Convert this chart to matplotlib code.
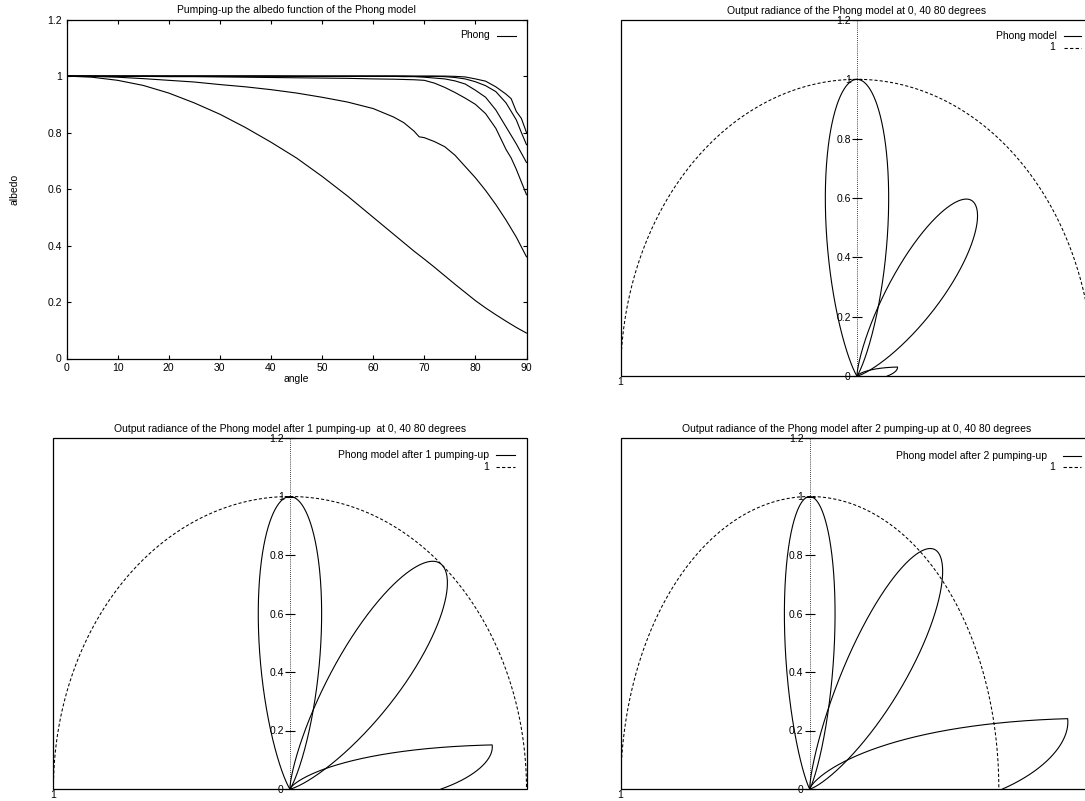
import numpy as np
import matplotlib
matplotlib.use("Agg")
import matplotlib.pyplot as plt
from matplotlib.patches import Rectangle
from matplotlib.lines import Line2D

plt.rcParams['font.family'] = ['Liberation Sans', 'DejaVu Sans']
plt.rcParams['font.size'] = 7.5

# albedo curves (one curve per pumping step)
angle = [0, 5, 10, 15, 20, 25, 30, 35, 40, 45, 50, 55, 60, 64, 66, 68, 69, 70,
         72, 74, 76, 78, 80, 82, 84, 86, 87, 88, 89, 90]
albedo_0 = [1.0, 0.996, 0.985, 0.967, 0.94, 0.905, 0.865, 0.818, 0.766, 0.71, 0.645, 0.575,
            0.50, 0.44, 0.41, 0.38, 0.366, 0.352, 0.323, 0.293, 0.263, 0.234, 0.205, 0.179,
            0.155, 0.132, 0.121, 0.11, 0.10, 0.09]
albedo_1 = [1.0, 0.999, 0.996, 0.991, 0.985, 0.979, 0.97, 0.962, 0.952, 0.94, 0.925, 0.908,
            0.885, 0.855, 0.835, 0.805, 0.785, 0.782, 0.768, 0.75, 0.72, 0.68, 0.64, 0.595,
            0.545, 0.49, 0.46, 0.43, 0.395, 0.36]
albedo_2 = [1.0, 1.0, 0.999, 0.999, 0.998, 0.998, 0.997, 0.996, 0.995, 0.994, 0.993, 0.992,
            0.99, 0.989, 0.988, 0.987, 0.986, 0.985, 0.975, 0.96, 0.942, 0.922, 0.90, 0.867,
            0.815, 0.74, 0.71, 0.67, 0.625, 0.58]
albedo_3 = [1.0, 1.0, 1.0, 1.0, 1.0, 1.0, 1.0, 1.0, 1.0, 0.999, 0.999, 0.999,
            0.999, 0.999, 0.998, 0.998, 0.997, 0.996, 0.993, 0.99, 0.983, 0.972, 0.95, 0.925,
            0.88, 0.82, 0.79, 0.76, 0.727, 0.694]
albedo_4 = [1.0, 1.0, 1.0, 1.0, 1.0, 1.0, 1.0, 1.0, 1.0, 1.0, 1.0, 1.0,
            1.0, 1.0, 1.0, 0.999, 0.999, 0.999, 0.999, 0.998, 0.995, 0.99, 0.98, 0.966,
            0.945, 0.905, 0.875, 0.845, 0.80, 0.757]
albedo_5 = [1.0, 1.0, 1.0, 1.0, 1.0, 1.0, 1.0, 1.0, 1.0, 1.0, 1.0, 1.0,
            1.0, 1.0, 1.0, 1.0, 1.0, 1.0, 1.0, 1.0, 0.999, 0.997, 0.99, 0.982,
            0.962, 0.936, 0.92, 0.875, 0.85, 0.80]
albedo_curves = [albedo_0, albedo_1, albedo_2, albedo_3, albedo_4, albedo_5]

# Phong lobes at the three incidence angles; peak radiance
incidence = [0, 40, 80]
peak_plain = [1.0, 0.766, 0.174]
peak_pump1 = [1.0, 1.0, 0.868]
peak_pump2 = [1.0, 1.056, 1.385]
# lobe fall-off read from the outlines: cosine power on the horizon side,
# cosine power (or exponential decay in degrees) on the normal side
lobe_far_power = [20, 18, 20]
lobe_near_power = [20, 20, None]
lobe_near_decay = [None, None, 9.0]

W, H = 1085, 801
LW = 0.8
fig = plt.figure(figsize=(W / 100, H / 100), dpi=100)


def box(left, top, right, bottom):
    return [left / W, 1 - bottom / H, (right - left) / W, (bottom - top) / H]


def fx(x):
    return x / W


def fy(y):
    return 1 - y / H


def key(entries, y0, x1, x2, dy=11.5):
    # gnuplot style key: right justified text followed by the line sample
    for i, (label, ls, right) in enumerate(entries):
        y = y0 + i * dy
        fig.text(fx(right), fy(y), label, ha='right', va='center')
        fig.add_artist(Line2D([fx(x1), fx(x2)], [fy(y), fy(y)], color='k',
                              lw=LW, ls=ls))


def fmt(v, pos=None):
    return f"{v:g}"


# ---- albedo panel
ax1 = fig.add_axes(box(66.5, 19.6, 526.5, 358.5))
for a in albedo_curves:
    ax1.plot(angle, a, color='k', lw=LW)
ax1.set_xlim(0, 90)
ax1.set_ylim(0, 1.2)
ax1.set_xticks(range(0, 91, 10))
ax1.set_yticks(np.arange(0, 1.21, 0.2))
ax1.yaxis.set_major_formatter(fmt)
ax1.tick_params(direction='in', length=3.2, width=0.8, top=True, right=True, pad=3.5)
for s in ax1.spines.values():
    s.set_linewidth(0.9)
ax1.set_title('Pumping-up the albedo function of the Phong model', pad=4.5, fontsize=7.5)
ax1.set_xlabel('angle', labelpad=0.5)
ax1.set_ylabel('albedo')
ax1.yaxis.set_label_coords(-0.103, 0.5)
key([('Phong', '-', 490)], 35.5, 496.5, 515.5)


def polar_panel(rect, peaks, title, xmax):
    ax = fig.add_axes(rect)
    theta = np.linspace(-90, 90, 1801)
    t = np.radians(theta)
    for i, (inc, pk) in enumerate(zip(incidence, peaks)):
        d = theta - inc
        c = np.clip(np.cos(np.radians(d)), 0, None)
        far = c ** lobe_far_power[i]
        if lobe_near_power[i] is not None:
            near = c ** lobe_near_power[i]
        else:
            near = np.exp(-np.abs(d) / lobe_near_decay[i])
        r = pk * np.where(d >= 0, far, near)
        ax.plot(r * np.sin(t), r * np.cos(t), color='k', lw=LW)
    ax.plot(np.sin(t), np.cos(t), color='k', lw=0.75, ls=(0, (3, 2)))
    ax.axvline(0, color='k', lw=0.6, ls=(0, (1, 1.5)))
    ax.set_xlim(-1, xmax)
    ax.set_ylim(0, 1.2)
    for s in ax.spines.values():
        s.set_visible(False)
    ax.spines['left'].set_position(('data', 0))
    ax.add_patch(Rectangle((0, 0), 1, 1, transform=ax.transAxes, fill=False,
                           lw=0.9, ec='k', clip_on=False))
    ax.set_yticks(np.arange(0, 1.21, 0.2))
    ax.yaxis.set_major_formatter(fmt)
    ax.tick_params(axis='y', direction='inout', length=7, width=0.8, pad=1.0)
    ax.set_xticks([-1])
    ax.set_xticklabels(['1'])
    ax.tick_params(axis='x', length=0, pad=1.0)
    ax.set_title(title, pad=4.5, fontsize=7.5)
    return ax


polar_panel(box(620.6, 20, 1093.4, 376), peak_plain,
            'Output radiance of the Phong model at 0, 40 80 degrees', 1.0)
key([('Phong model', '-', 1056.5), ('1', (0, (3, 2)), 1055)], 36, 1064, 1081)

polar_panel(box(53.4, 438, 526.5, 789), peak_pump1,
            'Output radiance of the Phong model after 1 pumping-up  at 0, 40 80 degrees', 1.0)
key([('Phong model after 1 pumping-up', '-', 489), ('1', (0, (3, 2)), 489)], 455, 496, 515)

polar_panel(box(620.6, 438, 1093.4, 789), peak_pump2,
            'Output radiance of the Phong model after 2 pumping-up at 0, 40 80 degrees', 1.5)
key([('Phong model after 2 pumping-up', '-', 1047), ('1', (0, (3, 2)), 1055)], 455.6, 1063, 1081)

fig.savefig('out.png', dpi=100)
